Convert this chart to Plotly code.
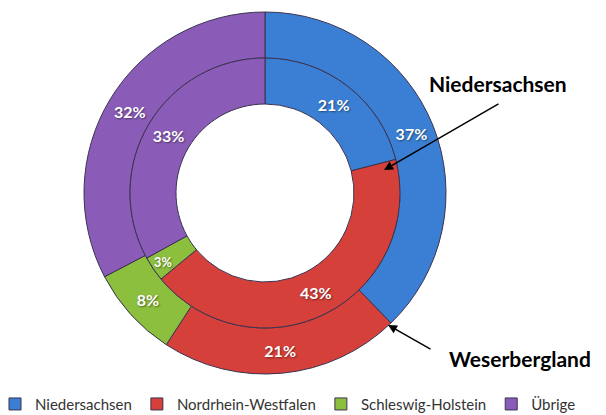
import plotly.graph_objects as go

categories = ["Niedersachsen", "Nordrhein-Westfalen", "Schleswig-Holstein", "Übrige"]
outer_values = [37, 21, 8, 32]   # Weserbergland
inner_values = [21, 43, 3, 33]   # Niedersachsen
colors = ["#3A7FD3", "#D6403A", "#8DBF3E", "#8A5CB8"]

OFF = 8  # page offset of the plot div (body margin)
W, H = 606 - OFF, 415 - OFF
cx, cy = 265 - OFF, 193 - OFF
r_out, r_mid, r_hole = 181, 135, 89

def dom(r):
    return dict(x=[(cx - r) / W, (cx + r) / W], y=[(H - cy - r) / H, (H - cy + r) / H])

def px(x, y):
    # page pixel -> paper fraction
    return (x - OFF) / W, 1 - (y - OFF) / H

txtfont = dict(family="Lato, 'Open Sans', sans-serif", size=16, color="white",
               weight="bold", shadow="1px 1px 2px rgba(0,0,0,0.45)")

fig = go.Figure()
fig.add_trace(go.Pie(
    labels=categories, values=outer_values, name="Weserbergland",
    hole=r_mid / r_out, domain=dom(r_out), sort=False, direction="clockwise",
    rotation=0, texttemplate="%{value}%", textposition="inside",
    insidetextorientation="horizontal", textfont=txtfont,
    marker=dict(colors=colors, line=dict(color="#3a3350", width=1)),
    showlegend=True, hoverinfo="label+value",
))
fig.add_trace(go.Pie(
    labels=categories, values=inner_values, name="Niedersachsen",
    hole=r_hole / r_mid, domain=dom(r_mid), sort=False, direction="clockwise",
    rotation=0, texttemplate="%{value}%", textposition="inside",
    insidetextorientation="horizontal", textfont=txtfont,
    marker=dict(colors=colors, line=dict(color="#3a3350", width=1)),
    showlegend=False, hoverinfo="label+value",
))

# arrows
tx, ty = px(384, 170)
fig.add_annotation(x=tx, y=ty, xref="paper", yref="paper", text="", showarrow=True,
                   ax=500 - 384, ay=103 - 170, arrowhead=2, arrowsize=1.2,
                   arrowwidth=1.5, arrowcolor="black")
tx, ty = px(388, 325)
fig.add_annotation(x=tx, y=ty, xref="paper", yref="paper", text="", showarrow=True,
                   ax=432 - 388, ay=350 - 325, arrowhead=2, arrowsize=1.2,
                   arrowwidth=1.5, arrowcolor="black")
lab_font = dict(family="Lato, 'Open Sans', sans-serif", size=21, color="black", weight="bold")
x, y = px(498, 83)
fig.add_annotation(x=x, y=y, xref="paper", yref="paper", text="Niedersachsen",
                   showarrow=False, font=lab_font, xanchor="center", yanchor="middle")
x, y = px(520, 358)
fig.add_annotation(x=x, y=y, xref="paper", yref="paper", text="Weserbergland",
                   showarrow=False, font=lab_font, xanchor="center", yanchor="middle")

fig.update_layout(
    width=W, height=H, margin=dict(l=0, r=0, t=0, b=0, autoexpand=False),
    paper_bgcolor="white", plot_bgcolor="white",
    legend=dict(orientation="h", x=-13 / W, y=-0.014, xanchor="left", yanchor="bottom",
                font=dict(family="Lato, 'Open Sans', sans-serif", size=15, color="#333333"),
                itemwidth=30, tracegroupgap=0, itemclick=False),
)
fig.write_html("out.html")
